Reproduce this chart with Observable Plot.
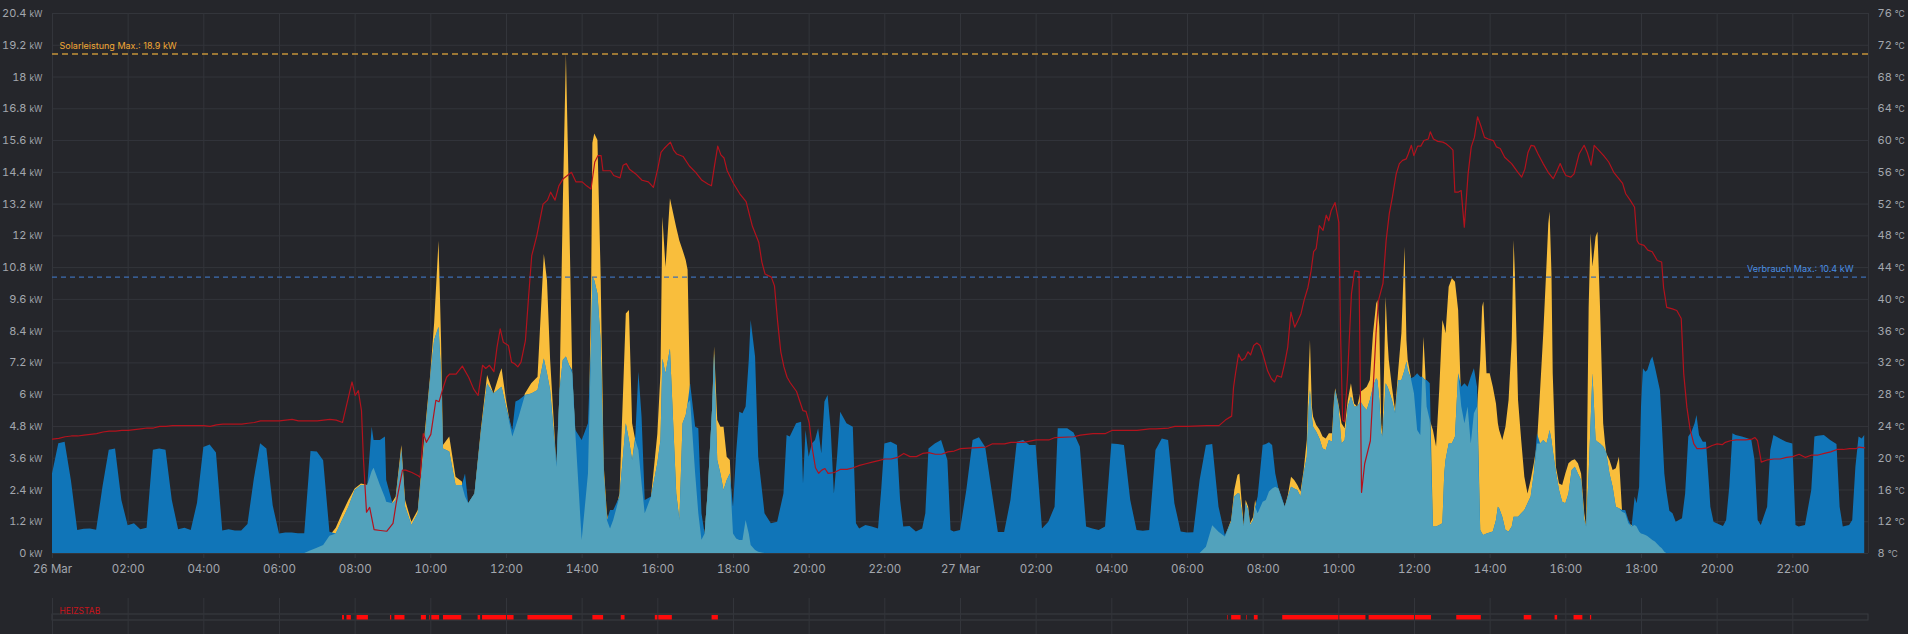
<!DOCTYPE html>
<html><head><meta charset="utf-8">
<script src="https://cdn.jsdelivr.net/npm/d3@7"></script>
<script src="https://cdn.jsdelivr.net/npm/@observablehq/plot@0.6"></script>
<style>
html,body{margin:0;padding:0;background:#25262b;}
#chart svg{display:block;}
</style></head><body><div id="chart"></div>
<script>
// ---------- DATA ----------
const day26Times = [
"00:00","00:10","00:20","00:30","00:40","00:50",
"01:00","01:10","01:20","01:30","01:40","01:50",
"02:00","02:10","02:20","02:30","02:40","02:50",
"03:00","03:10","03:20","03:30","03:40","03:50",
"04:00","04:10","04:20","04:30","04:40","04:50",
"05:00","05:10","05:20","05:30","05:40","05:50",
"06:00","06:10","06:20","06:30","06:40","06:50",
"07:00","07:10","07:20","07:30","07:40","07:50",
"08:00","08:10","08:20","08:27","08:30","08:40","08:48","08:50",
"09:00","09:05","09:14","09:20","09:30","09:40","09:50",
"10:00","10:06","10:13","10:17","10:20","10:30","10:40","10:50","10:55",
"11:00","11:10","11:20","11:30","11:40","11:50","11:53",
"12:00","12:10","12:15","12:20","12:30","12:40","12:50",
"13:00","13:05","13:10","13:20","13:25","13:30","13:35","13:40","13:45","13:50",
"14:00","14:10","14:15","14:17","14:20","14:25","14:30","14:35","14:40","14:45","14:50",
"15:00","15:10","15:15","15:20","15:25","15:30","15:35","15:40","15:50",
"16:00","16:05","16:08","16:13","16:20","16:30","16:35","16:40","16:45","16:48","16:52",
"17:00","17:05","17:10","17:15","17:20","17:27","17:30","17:35","17:40","17:45","17:50","17:55",
"18:00","18:05","18:10","18:15","18:20","18:25","18:28","18:35","18:40","18:50",
"19:00","19:10","19:20","19:25","19:30","19:40","19:48","19:51","19:55",
"20:00","20:05","20:10","20:15","20:20","20:25","20:30","20:35","20:40","20:45","20:50",
"21:00","21:10","21:15","21:20","21:30","21:40","21:50","21:55",
"22:00","22:10","22:20","22:25","22:30","22:40","22:50",
"23:00","23:05","23:10","23:20","23:30","23:40","23:45","23:50"];
const day26Consumption = [
3.0,4.15,4.2,2.75,0.87,0.92,
0.93,0.88,2.5,3.9,3.95,2.0,
1.05,1.12,0.9,0.95,3.9,3.95,
3.9,2.0,0.9,0.95,0.87,1.9,
4.0,4.1,3.8,0.85,0.9,0.85,
0.85,1.1,2.8,4.15,3.95,1.8,
0.74,0.77,0.77,0.75,0.75,3.85,
3.83,3.5,0.8,0.74,1.25,1.75,
2.38,2.57,2.57,4.77,4.27,4.27,4.4,2.76,
1.88,2.0,3.89,1.75,1.06,1.5,4.0,
6.66,8.05,8.55,6.79,3.95,3.83,2.57,2.57,3.0,
1.88,2.25,4.52,6.4,6.03,6.22,6.28,
5.53,4.65,5.72,5.78,5.97,6.03,6.16,
7.35,6.79,6.16,3.39,6.16,7.29,7.42,7.1,6.91,4.65,
4.27,4.9,8.05,10.44,10.3,9.8,8.05,3.0,1.25,1.62,1.62,
2.13,4.9,4.27,3.51,4.4,6.85,5.15,2.0,2.13,
3.4,4.27,7.35,6.79,7.73,2.25,1.25,4.9,5.21,5.65,6.4,
4.77,4.71,1.5,0.74,2.38,5.53,7.54,3.51,3.0,2.38,2.76,3.0,
1.75,3.8,5.34,5.28,5.53,7.29,8.8,7.42,3.64,1.5,
1.12,1.18,2.25,4.46,4.4,4.9,4.96,2.63,4.65,
3.64,4.14,4.27,4.71,3.77,5.72,5.97,4.65,2.25,3.64,5.34,
4.9,4.77,1.12,0.93,1.06,1.0,0.93,2.38,
4.14,4.2,4.08,2.0,1.0,1.02,0.81,
0.93,1.5,3.95,4.14,4.27,3.51,0.87,0.81];
const day26Solar = [
0,0,0,0,0,0, 0,0,0,0,0,0, 0,0,0,0,0,0,
0,0,0,0,0,0, 0,0,0,0,0,0, 0,0,0,0,0,0,
0,0,0,0,0,0.1,
0.2,0.3,0.65,0.95,1.5,2.0,
2.44,2.63,2.57,3.1,3.22,2.57,2.1,1.94,
1.94,2.13,4.08,2.0,1.18,1.62,4.27,
6.79,8.68,11.8,8.05,4.08,4.4,2.88,2.7,2.13,
1.88,2.25,4.65,6.72,6.03,6.79,6.98,
5.78,4.4,4.77,5.15,6.03,6.41,6.66,
11.3,10.3,7.29,3.26,6.16,13.1,18.87,13.1,6.79,4.52,
0.49,3.0,10.0,15.5,15.85,15.6,10.57,3.3,1.5,0.93,1.25,
2.25,9.05,9.18,4.9,4.27,3.89,2.63,1.5,2.13,
4.5,6.8,12.7,10.8,13.4,12.3,11.8,11.45,11.07,10.7,5.78,
3.0,1.5,0.5,0.74,2.38,5.53,7.8,5.02,4.77,4.77,3.64,3.51,
0.74,0.55,0.49,0.49,1.25,0.74,0.3,0.11,0.05,0,
0,0,0,0,0,0,0,0,0,
0,0,0,0,0,0,0,0,0,0,0,
0,0,0,0,0,0,0,0,
0,0,0,0,0,0,0,
0,0,0,0,0,0,0,0];

const day27Times = [
"00:00","00:10","00:20","00:30","00:40","00:50",
"01:00","01:10","01:20","01:30","01:40","01:50",
"02:00","02:10","02:20","02:30","02:35","02:40","02:50",
"03:00","03:10","03:20","03:30","03:40","03:50",
"04:00","04:10","04:20","04:30","04:40","04:50",
"05:00","05:10","05:20","05:30","05:40","05:50",
"06:00","06:10","06:20","06:30","06:40","06:50",
"07:00","07:10","07:15","07:20","07:23","07:30","07:33","07:37","07:40","07:45","07:48","07:52",
"08:00","08:05","08:10","08:15","08:20","08:25","08:30","08:35","08:40","08:45","08:50","08:55",
"09:00","09:05","09:10","09:13","09:15","09:18","09:20","09:25","09:30","09:35","09:40","09:45","09:50","09:53","09:55",
"10:00","10:05","10:10","10:15","10:20","10:25","10:30","10:35","10:40","10:45","10:50","10:55",
"11:00","11:02","11:05","11:08","11:10","11:13","11:15","11:18","11:20","11:25","11:30","11:35","11:40","11:45","11:48","11:50","11:55",
"12:00","12:05","12:10","12:13","12:15","12:18","12:20","12:25","12:30","12:35","12:40","12:45","12:48","12:50","12:55",
"13:00","13:05","13:10","13:15","13:20","13:25","13:30","13:35","13:40","13:45","13:48","13:50","13:55",
"14:00","14:05","14:10","14:13","14:15","14:20","14:25","14:30","14:35","14:38","14:40","14:45","14:50","14:55",
"15:00","15:05","15:10","15:15","15:20","15:25","15:30","15:33","15:35","15:38","15:40","15:45","15:50","15:55",
"16:00","16:05","16:10","16:15","16:20","16:25","16:30","16:33","16:37","16:40","16:43","16:48","16:51","16:55",
"17:00","17:03","17:05","17:10","17:15","17:20","17:25","17:30","17:35","17:40","17:45","17:50","17:53","17:57",
"18:00","18:03","18:07","18:10","18:15","18:18","18:22","18:30","18:33","18:37","18:40","18:45","18:50","18:55",
"19:00","19:05","19:10","19:15","19:20","19:25","19:28","19:32","19:38","19:43","19:48","19:50","19:55",
"20:00","20:10","20:15","20:20","20:25","20:30","20:40","20:50","20:55",
"21:00","21:05","21:10","21:20","21:25","21:30","21:40","21:50",
"22:00","22:05","22:10","22:20","22:30","22:35","22:40","22:50",
"23:00","23:10","23:15","23:20","23:30","23:35","23:40","23:45","23:50","23:54"];
const day27Consumption = [
0.87,2.38,4.27,4.37,4.0,2.38,
0.79,0.79,2.0,4.2,4.27,4.08,
4.08,0.93,1.18,1.75,4.71,4.71,4.71,
4.55,4.02,1.0,0.93,0.87,1.0,
4.14,4.12,4.08,2.0,0.87,0.84,
0.87,3.89,4.33,4.27,1.88,0.81,
0.77,0.78,2.76,4.08,4.12,1.75,
0.68,1.18,2.13,2.25,2.25,1.0,1.88,1.62,1.06,1.25,1.75,2.13,
4.08,4.12,4.18,4.08,3.0,2.44,2.13,1.75,2.13,2.5,2.44,2.38,
2.13,3.0,3.64,5.53,6.16,5.15,4.77,4.58,4.33,3.95,3.89,4.27,4.2,5.53,6.16,
5.53,4.14,4.27,5.53,5.91,5.53,5.53,5.72,5.53,5.4,5.78,6.28,
6.6,6.54,5.78,4.52,4.4,5.53,6.41,6.28,6.16,5.78,5.28,6.54,6.54,6.91,7.23,6.91,6.6,
6.66,6.79,6.66,6.66,6.6,6.54,6.54,6.41,1.0,1.0,1.06,1.12,3.0,3.51,4.14,
4.14,4.4,6.79,6.28,6.41,6.28,6.66,6.98,6.28,0.87,0.74,0.68,0.74,
0.77,0.81,1.25,1.75,1.69,1.37,0.87,0.81,1.0,1.37,1.37,1.37,1.5,1.62,
1.88,2.13,3.0,4.52,4.14,4.27,4.14,4.4,4.65,4.27,3.89,3.07,2.38,1.94,
1.88,2.25,3.14,3.26,3.0,2.76,1.25,1.0,3.0,4.9,6.79,4.27,4.2,4.14,
4.02,3.89,3.77,3.0,2.5,1.75,1.69,1.62,1.62,1.25,1.0,2.13,1.88,2.5,
5.53,6.98,6.85,6.91,7.29,7.42,7.04,6.16,4.9,3.0,2.38,1.6,1.5,1.18,
1.25,1.31,2.25,4.4,4.58,4.9,5.21,4.46,4.2,4.2,2.5,1.75,1.18,
1.12,1.02,1.25,2.5,4.52,4.46,4.4,4.33,4.27,
3.51,1.25,1.06,1.75,3.89,4.46,4.33,4.2,
4.14,1.06,1.0,1.06,2.38,4.4,4.43,4.46,
4.27,4.12,1.75,1.0,1.06,1.25,3.26,4.4,4.33,4.46];
const day27Solar = [
0,0,0,0,0,0, 0,0,0,0,0,0, 0,0,0,0,0,0,0,
0,0,0,0,0,0, 0,0,0,0,0,0, 0,0,0,0,0,0,
0,0,0,0.24,1.05,0.8,
0.62,1.25,2.38,2.95,3.0,1.0,2.0,1.75,1.12,1.37,2.0,1.5,
1.94,2.0,2.32,2.44,2.5,2.44,2.07,1.75,2.19,2.88,2.76,2.57,
2.32,3.14,4.27,6.79,8.05,5.53,5.15,4.84,4.67,4.4,4.33,4.52,4.52,5.78,6.22,
5.65,4.9,4.71,5.78,6.41,5.65,5.53,6.09,6.18,6.28,6.54,8.3,
9.43,9.56,8.55,4.9,4.4,7.42,9.68,8.05,7.29,6.28,5.4,6.91,8.3,11.57,8.05,7.29,6.66,
6.03,4.65,4.46,6.79,8.17,6.79,5.53,5.02,4.65,4.02,6.16,8.8,8.55,8.3,10.06,
10.38,10.25,9.18,5.53,4.9,5.53,4.14,5.28,5.53,7.29,9.3,9.5,6.79,
6.79,6.28,5.65,4.9,4.65,4.27,4.77,5.78,8.05,11.82,10.57,5.78,4.27,2.88,
2.25,2.76,3.39,4.14,6.16,8.3,10.82,12.45,12.9,10.57,6.79,3.26,2.63,2.57,
3.0,3.39,3.49,3.54,3.39,3.0,1.5,1.0,9.3,12.08,10.82,11.95,12.14,9.3,
4.9,4.14,3.77,3.51,3.14,3.2,3.64,1.56,1.5,1.12,1.06,1.06,1.0,0.81,
0.74,0.72,0.68,0.64,0.55,0.49,0.43,0.24,0.18,0.05,0,0,0,0,
0,0,0,0,0,0,0,0,0,0,0,0,0,
0,0,0,0,0,0,0,0,0,
0,0,0,0,0,0,0,0,
0,0,0,0,0,0,0,0,
0,0,0,0,0,0,0,0,0,0];

const temp26Times = [
"00:00","00:10","00:20","00:30","00:40","00:50",
"01:00","01:10","01:20","01:30","01:40","01:50",
"02:00","02:10","02:20","02:30","02:40","02:50",
"03:00","03:10","03:20","03:30","03:40","03:50",
"04:00","04:10","04:20","04:30","04:40","04:50",
"05:00","05:10","05:20","05:30","05:40","05:50",
"06:00","06:10","06:20","06:30","06:40","06:50",
"07:00","07:10","07:20","07:30","07:40","07:55",
"08:00","08:05","08:10","08:13","08:18","08:23","08:30","08:40","08:50",
"09:00","09:05","09:15","09:20","09:30","09:40","09:43","09:48","09:53",
"10:00","10:08","10:13","10:20","10:25","10:30","10:40","10:50",
"11:00","11:08","11:15","11:22","11:27","11:33","11:40","11:45","11:50","11:55",
"12:03","12:08","12:13","12:18","12:23","12:30","12:35","12:40","12:48","12:58",
"13:05","13:10","13:17","13:23","13:30","13:43","13:50",
"14:00","14:07","14:14","14:20","14:25","14:30","14:33","14:45","14:50",
"15:00","15:05","15:10","15:15","15:25","15:35","15:45","15:53",
"16:00","16:05","16:10","16:20","16:25","16:30","16:40","16:50",
"17:00","17:10","17:20","17:25","17:30","17:35","17:40","17:45","17:50",
"18:00","18:10","18:20","18:30","18:40","18:45","18:50",
"19:00","19:05","19:10","19:15","19:20","19:25","19:30","19:40","19:50","19:55",
"20:00","20:05","20:10","20:15","20:20","20:25","20:30","20:40","20:50",
"21:00","21:10","21:20","21:30","21:40","21:50",
"22:00","22:10","22:20","22:30","22:40","22:50",
"23:00","23:10","23:20","23:30","23:40","23:50"];
const temp26Values = [
22.4,22.5,22.7,22.8,22.8,22.9,
23.0,23.1,23.3,23.4,23.4,23.5,
23.5,23.6,23.7,23.8,23.8,24.0,
24.0,24.1,24.1,24.1,24.1,24.1,
24.1,24.0,24.2,24.3,24.3,24.3,
24.3,24.4,24.5,24.7,24.7,24.7,
24.7,24.8,24.9,24.7,24.7,24.7,
24.7,24.8,24.9,24.8,24.5,29.6,
27.9,28.5,26.0,20.1,13.2,13.8,11.0,10.9,10.8,
11.8,14.3,18.5,18.5,18.2,17.8,17.6,23.1,22.0,
23.0,27.3,27.1,29.0,30.2,30.6,30.6,31.6,
30.2,28.7,27.9,31.7,31.3,31.7,30.9,34.0,36.3,34.6,
34.2,32.1,31.9,31.5,32.1,34.8,40.3,45.5,48.0,52.0,
52.5,53.5,52.5,54.3,55.2,56.0,54.8,
54.8,54.3,53.9,57.3,58.1,58.1,56.2,56.2,55.6,
55.3,56.9,57.1,56.4,55.8,55.0,54.8,54.1,
56.5,58.5,59.0,59.8,58.8,58.3,58.0,56.8,
56.0,55.0,54.5,54.3,56.9,59.3,58.2,57.8,56.2,
54.6,53.3,52.3,49.2,47.2,44.7,43.2,
42.8,41.7,37.2,33.4,31.5,30.2,29.5,28.4,26.0,25.9,
24.5,21.2,18.8,18.1,18.5,18.7,18.1,18.2,18.6,
18.6,18.8,19.1,19.3,19.5,19.7,
19.9,19.9,20.1,20.6,20.2,20.2,
20.6,20.7,20.5,20.5,20.8,20.9];

const temp27Times = [
"00:00","00:20","00:40","00:50","01:10","01:20","01:40",
"02:00","02:20","02:30","03:00","03:10","03:30","03:50",
"04:00","04:40","05:00","05:10","05:30","05:40","06:00","06:30","06:50",
"07:00","07:10","07:13","07:16","07:21","07:26","07:31","07:36","07:40","07:45","07:50","07:55",
"08:00","08:07","08:13","08:18","08:22","08:29","08:34","08:39","08:44","08:50","08:55",
"09:00","09:05","09:11","09:16","09:20","09:24","09:29","09:35","09:40","09:44","09:48","09:54",
"10:00","10:03","10:06","10:09","10:14","10:20","10:25","10:32","10:36","10:41","10:50","10:54","10:59",
"11:03","11:10","11:15","11:20","11:25","11:31","11:36","11:41","11:47","11:50","11:55","11:59",
"12:05","12:10","12:15","12:22","12:25","12:30","12:37","12:45","12:50","12:56",
"13:01","13:04","13:09","13:14","13:19","13:25","13:30","13:35","13:40","13:45","13:51","13:57",
"14:05","14:10","14:16","14:23","14:34","14:44","14:50","14:55",
"15:00","15:05","15:10","15:16","15:24","15:32","15:40","15:45","15:51","15:56",
"16:00","16:08","16:13","16:21","16:29","16:34","16:40","16:45","16:52",
"17:00","17:08","17:16","17:24","17:30","17:35","17:42","17:49","17:53","17:56",
"18:04","18:10","18:17","18:25","18:32","18:35","18:40","18:49","18:56",
"19:03","19:07","19:12","19:17","19:23","19:28","19:36","19:44","19:52",
"20:00","20:08","20:13","20:21","20:30","20:45","20:55",
"21:00","21:04","21:10","21:20","21:30","21:40","21:50",
"22:00","22:10","22:20","22:30","22:40","22:50",
"23:00","23:10","23:20","23:30","23:40","23:45","23:54"];
const temp27Values = [
21.2,21.3,21.4,21.8,21.8,22.0,22.0,
22.3,22.3,22.6,22.7,22.9,23.1,23.1,
23.5,23.5,23.7,23.7,23.8,24.0,24.0,24.1,24.1,
24.8,25.3,28.9,30.6,33.1,32.3,32.6,33.4,33.0,34.2,34.5,34.2,
33.0,31.0,30.0,29.6,30.4,30.2,31.9,34.0,38.4,36.5,37.3,
38.2,39.9,41.5,43.6,46.0,46.4,49.3,48.7,50.6,49.9,51.2,52.2,
49.7,34.8,24.8,24.6,30.6,40.7,43.6,43.5,15.7,19.3,22.2,28.1,35.7,
39.9,42.0,47.4,50.8,52.9,55.8,57.1,57.5,57.7,58.3,59.4,58.1,
59.3,59.3,60.0,60.2,61.1,60.2,59.9,59.8,59.6,59.2,
58.8,53.5,53.5,53.7,49.1,55.8,59.2,60.4,63.0,61.9,60.4,60.2,
60.0,59.2,59.0,57.9,57.1,56.0,55.4,56.4,
58.5,59.4,59.3,58.3,57.1,56.0,55.2,56.0,57.1,56.2,
55.6,55.4,55.8,58.3,59.4,58.5,56.9,59.4,58.8,
58.1,57.3,56.0,55.2,54.6,53.3,52.5,51.6,47.4,47.0,
46.8,46.2,46.0,44.9,44.7,41.5,39.0,38.8,38.6,
37.6,30.6,26.4,23.7,21.8,21.2,21.2,21.3,21.6,
21.8,21.7,22.0,22.2,22.3,22.3,22.4,
22.6,22.2,19.5,19.8,19.9,19.9,20.1,
20.2,20.5,20.1,20.4,20.4,20.6,
20.8,21.1,21.1,21.2,21.2,21.4,21.3];

const heizstab26 = [["07:40","07:43"],["07:47","07:54"],["08:03","08:21"],["08:56","08:58"],["09:03","09:19"],
  ["09:45","09:53"],["09:58","09:59"],["10:01","10:14"],["10:20","10:49"],["11:15","11:19"],["11:22","12:12"],
  ["12:34","13:45"],["14:17","14:34"],["15:02","15:08"],["15:56","16:23"],["17:26","17:36"]];
const heizstab27 = [["07:04","07:05"],["07:10","07:25"],["07:34","07:35"],["07:46","07:52"],["08:31","10:43"],
  ["10:48","12:27"],["13:07","13:46"],["14:54","15:06"],["15:43","15:47"],["16:13","16:27"],["16:39","16:41"]];

const powerTicks = [0,1.2,2.4,3.6,4.8,6,7.2,8.4,9.6,10.8,12,13.2,14.4,15.6,16.8,18,19.2,20.4];
const tempTicks = [8,12,16,20,24,28,32,36,40,44,48,52,56,60,64,68,72,76];
const xTickLabels = ["26 Mar","02:00","04:00","06:00","08:00","10:00","12:00","14:00","16:00","18:00","20:00","22:00",
  "27 Mar","02:00","04:00","06:00","08:00","10:00","12:00","14:00","16:00","18:00","20:00","22:00"];

// ---------- BUILD ----------
function same(name,a,b){ if(a.length!==b.length) throw new Error(name+" length mismatch "+a.length+" vs "+b.length); }
same("26 cons",day26Times,day26Consumption); same("26 solar",day26Times,day26Solar);
same("27 cons",day27Times,day27Consumption); same("27 solar",day27Times,day27Solar);
same("t26",temp26Times,temp26Values); same("t27",temp27Times,temp27Values);

const toDate=(day,hm)=>{const [h,m]=hm.split(":").map(Number);return new Date(Date.UTC(2024,2,day,h,m));};
const rows=[
  ...day26Times.map((t,i)=>({t:toDate(26,t),cons:day26Consumption[i],solar:day26Solar[i]})),
  ...day27Times.map((t,i)=>({t:toDate(27,t),cons:day27Consumption[i],solar:day27Solar[i]}))
].map(d=>({...d,self:Math.min(d.cons,d.solar)}));
const temps=[
  ...temp26Times.map((t,i)=>({t:toDate(26,t),temp:temp26Values[i]})),
  ...temp27Times.map((t,i)=>({t:toDate(27,t),temp:temp27Values[i]}))
];
const heiz=[...heizstab26.map(([a,b])=>({a:toDate(26,a),b:toDate(26,b)})),
            ...heizstab27.map(([a,b])=>({a:toDate(27,a),b:toDate(27,b)}))];

const start=toDate(26,"00:00"), end=toDate(28,"00:00");
const xTicks=d3.utcHour.every(2).range(start,end);
const xGrid=[...xTicks,end];
const tempToPower = T => (T-tempTicks[0])*(powerTicks[powerTicks.length-1]/(tempTicks[tempTicks.length-1]-tempTicks[0]));
const solarMax=d3.max(rows,d=>d.solar), consMax=d3.max(rows,d=>d.cons);

const GRID="#33353b", TXT="#a3a7ae";
const BLUE="#1075b8", YEL="#f9be3c", SELF="#52a2bc", RED="#b3121d";

const main=Plot.plot({
  width:1908, height:590, marginTop:13, marginBottom:37, marginLeft:52, marginRight:40,
  style:{background:"transparent", color:TXT, fontFamily:"Inter, 'Noto Sans', sans-serif", fontSize:"11px", overflow:"visible"},
  x:{type:"utc", domain:[start,end]},
  y:{domain:[0,20.4]},
  marks:[
    Plot.gridY(powerTicks,{stroke:GRID,strokeOpacity:1}),
    Plot.gridX(xGrid,{stroke:GRID,strokeOpacity:1}),
    Plot.areaY(rows,{x:"t",y:"solar",fill:YEL}),
    Plot.areaY(rows,{x:"t",y:"cons",fill:BLUE}),
    Plot.areaY(rows,{x:"t",y:"self",fill:SELF}),
    Plot.line(temps,{x:"t",y:d=>tempToPower(d.temp),stroke:RED,strokeWidth:1.2}),
    Plot.ruleY([solarMax],{stroke:"#c3923a",strokeWidth:1.5,strokeDasharray:"6,4"}),
    Plot.ruleY([consMax],{stroke:"#3d6db3",strokeWidth:1.3,strokeDasharray:"5,4"}),
    Plot.text([solarMax],{x:()=>start,y:d=>d,text:d=>`Solarleistung Max.: ${d.toFixed(1)} kW`,
      textAnchor:"start",dx:7,dy:-8,fill:"#f2a834",fontSize:9}),
    Plot.text([consMax],{x:()=>end,y:d=>d,text:d=>`Verbrauch Max.: ${d.toFixed(1)} kW`,
      textAnchor:"end",dx:-15,dy:-8,fill:"#4a8fe3",fontSize:9}),
    Plot.axisX(xTicks,{tickFormat:(d)=>xTickLabels[xTicks.findIndex(t=>+t===+d)],tickSize:5,tickPadding:6,stroke:GRID,fontSize:11.5,label:null}),
    Plot.axisY(powerTicks,{anchor:"left",tickSize:0,tickPadding:10,tickFormat:d=>`${d} kW`,label:null,fontSize:11}),
    Plot.axisY(powerTicks,{anchor:"right",tickSize:0,tickPadding:9,tickFormat:d=>`${tempTicks[powerTicks.indexOf(d)]} °C`,label:null,fontSize:11})
  ]
});
main.querySelectorAll('g[aria-label="y-axis tick label"] text').forEach(t=>{
  const s=t.textContent; const k=s.lastIndexOf(" ");
  if(k<0) return;
  const num=s.slice(0,k), unit=s.slice(k+1);
  t.textContent=num;
  const ts=document.createElementNS("http://www.w3.org/2000/svg","tspan");
  ts.setAttribute("font-size","8.5"); ts.setAttribute("dx","3"); ts.textContent=unit;
  t.appendChild(ts);
});

const bottom=Plot.plot({
  width:1908, height:44, marginTop:8, marginBottom:0, marginLeft:52, marginRight:40,
  style:{background:"transparent", color:TXT, fontFamily:"Inter, 'Noto Sans', sans-serif", overflow:"visible"},
  x:{type:"utc", domain:[start,end], axis:null},
  y:{type:"band", domain:["HEIZSTAB"], range:[24,30.3], padding:0, axis:null},
  marks:[
    Plot.barX([{a:start,b:end}],{x1:"a",x2:"b",y:()=>"HEIZSTAB",fill:"none",stroke:"#3a3c42",strokeWidth:1}),
    Plot.barX(heiz,{x1:"a",x2:"b",y:()=>"HEIZSTAB",fill:"#ff0a0a",insetTop:1,insetBottom:0.5}),
    Plot.ruleX(xTicks,{stroke:GRID,strokeWidth:1}),
    Plot.text(["HEIZSTAB"],{x:()=>start,y:d=>d,text:d=>d,textAnchor:"start",dx:7,dy:-6,fill:"#c9141c",fontSize:8.5})
  ]
});
const c=document.getElementById("chart");
c.appendChild(main); c.appendChild(bottom);
</script></body></html>
